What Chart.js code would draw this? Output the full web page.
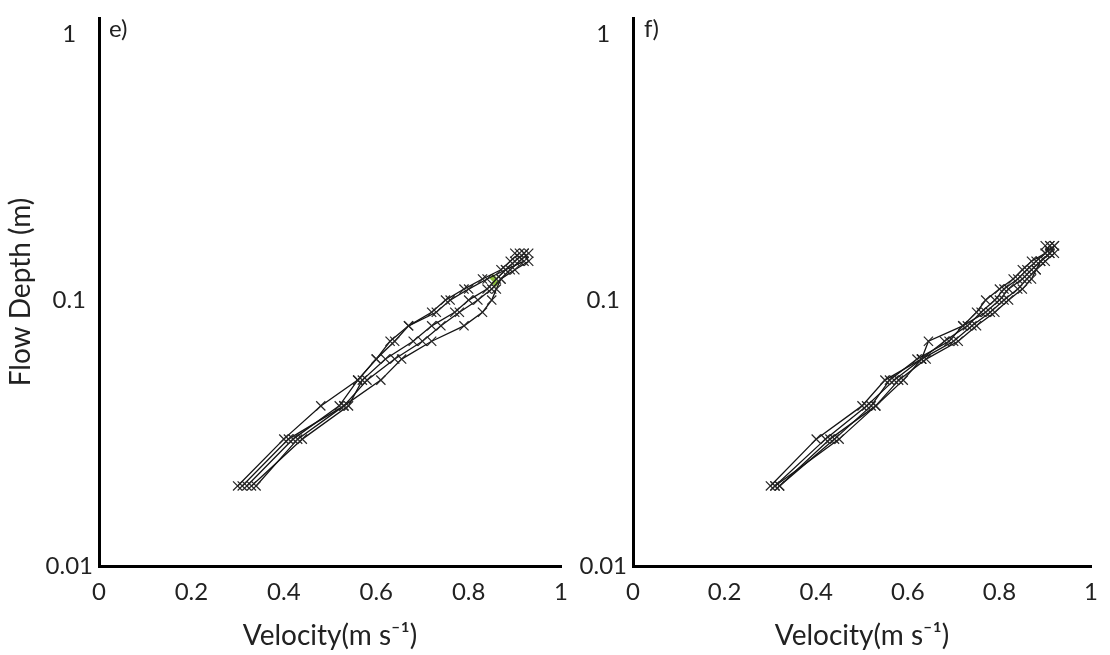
<!DOCTYPE html>
<html>
<head>
<meta charset="utf-8">
<script src="https://cdn.jsdelivr.net/npm/chart.js"></script>
<style>
  body { margin: 0; background: #fff; }
  .panel { position: absolute; top: 0; height: 655px; }
  .tag { position: absolute; top: 13px; font: 24px Lato, sans-serif; color: #222; }
</style>
</head>
<body>
<div class="panel" style="left:0;width:580px"><canvas id="chartE"></canvas></div>
<div class="panel" style="left:540px;width:570px"><canvas id="chartF"></canvas></div>
<div class="tag" style="left:109px">e)</div>
<div class="tag" style="left:644px">f)</div>

<script>
// depth of each reading (m)
var depthsE = [0.02, 0.03, 0.04, 0.05, 0.06, 0.07, 0.08, 0.09, 0.10, 0.11, 0.12, 0.13, 0.14, 0.15];
var depthsF = [0.02, 0.03, 0.04, 0.05, 0.06, 0.07, 0.08, 0.09, 0.10, 0.11, 0.12, 0.13, 0.14, 0.15, 0.16];

// velocity profiles (m/s), panel e
var velE1 = [0.30, 0.40, 0.48, 0.56, 0.60, 0.63, 0.67, 0.72, 0.75, 0.79, 0.83, 0.87, 0.89, 0.91];
var velE2 = [0.32, 0.42, 0.52, 0.56, 0.60, 0.64, 0.67, 0.73, 0.76, 0.80, 0.84, 0.88, 0.90, 0.92];
var velE3 = [0.34, 0.43, 0.53, 0.61, 0.655, 0.72, 0.79, 0.83, 0.85, 0.86, 0.87, 0.90, 0.93, 0.92];
var velE4 = [0.33, 0.44, 0.54, 0.57, 0.62, 0.68, 0.72, 0.77, 0.80, 0.84, 0.86, 0.88, 0.92, 0.90];
var velE5 = [0.31, 0.41, 0.53, 0.58, 0.64, 0.70, 0.74, 0.78, 0.82, 0.85, 0.87, 0.89, 0.91, 0.93];
// the two green readings in panel e
var greenVel = [0.853, 0.858];
var greenDepth = [0.121, 0.116];

// velocity profiles (m/s), panel f
var velF1 = [0.30, 0.40, 0.50, 0.55, 0.63, 0.645, 0.72, 0.75, 0.77, 0.80, 0.83, 0.85, 0.87, 0.90, 0.91];
var velF2 = [0.31, 0.42, 0.51, 0.57, 0.63, 0.68, 0.73, 0.76, 0.79, 0.81, 0.84, 0.86, 0.88, 0.90, 0.92];
var velF3 = [0.32, 0.43, 0.53, 0.59, 0.63, 0.70, 0.74, 0.78, 0.81, 0.84, 0.86, 0.88, 0.89, 0.91, 0.90];
var velF4 = [0.31, 0.45, 0.53, 0.58, 0.64, 0.71, 0.75, 0.79, 0.82, 0.85, 0.87, 0.88, 0.90, 0.92, 0.91];
var velF5 = [0.32, 0.44, 0.52, 0.56, 0.62, 0.69, 0.72, 0.77, 0.80, 0.82, 0.85, 0.87, 0.89, 0.91, 0.92];

var xTicks = [0, 0.2, 0.4, 0.6, 0.8, 1];
var yTicks = [0.01, 0.1, 1];

var FONT = 'Lato, sans-serif';
var TEXT = '#222';

function profile(vel, depths) {
  return {
    data: vel.map(function(v, i) { return {x: v, y: depths[i]}; }),
    showLine: true,
    borderColor: '#141414',
    borderWidth: 1.3,
    pointStyle: 'crossRot',
    pointRadius: 6.5,
    pointBorderWidth: 1.2,
    pointBorderColor: '#262626',
    pointBackgroundColor: '#262626'
  };
}

function makeOptions(yWidth, showTitle) {
  return {
    responsive: true,
    maintainAspectRatio: false,
    animation: false,
    layout: {padding: {top: 0, right: showTitle ? 15 : 12, bottom: 0, left: 0}},
    plugins: {legend: {display: false}, tooltip: {enabled: false}},
    scales: {
      x: {
        type: 'linear', min: 0, max: 1,
        grid: {display: false, drawTicks: false},
        border: {display: true, color: '#000', width: 3},
        afterBuildTicks: function(s) { s.ticks = xTicks.map(function(v) { return {value: v}; }); },
        afterFit: function(s) { s.height = 89; },
        ticks: {
          padding: 12, color: TEXT, font: {family: FONT, size: 24},
          callback: function(v) { return String(v); }
        },
        title: {
          display: true, text: 'Velocity(m s\u207B\u00B9)', color: TEXT,
          font: {family: FONT, size: 28}, padding: {top: 0, bottom: 2}
        }
      },
      y: {
        type: 'logarithmic', min: 0.01, max: 1.15,
        grid: {display: false, drawTicks: false},
        border: {display: true, color: '#000', width: 3},
        afterBuildTicks: function(s) { s.ticks = yTicks.map(function(v) { return {value: v}; }); },
        afterFit: function(s) { s.width = yWidth; },
        ticks: {
          padding: 6, crossAlign: 'center', color: TEXT,
          font: {family: FONT, size: 24, lineHeight: 1},
          callback: function(v) { return String(v); }
        },
        title: {
          display: showTitle, text: 'Flow Depth (m)', color: TEXT,
          font: {family: FONT, size: 28}, padding: {top: 4, bottom: 0}
        }
      }
    }
  };
}

var setsE = [velE1, velE2, velE3, velE4, velE5].map(function(v) { return profile(v, depthsE); });
setsE.push({
  data: greenVel.map(function(v, i) { return {x: v, y: greenDepth[i]}; }),
  showLine: false,
  pointStyle: 'rectRot',
  pointRadius: 4,
  pointBorderWidth: 0,
  pointBackgroundColor: '#8dbf3c'
});

new Chart(document.getElementById('chartE'), {
  type: 'scatter',
  data: {datasets: setsE},
  options: makeOptions(99, true)
});

new Chart(document.getElementById('chartF'), {
  type: 'scatter',
  data: {datasets: [velF1, velF2, velF3, velF4, velF5].map(function(v) { return profile(v, depthsF); })},
  options: makeOptions(93, false)
});
</script>
</body>
</html>
